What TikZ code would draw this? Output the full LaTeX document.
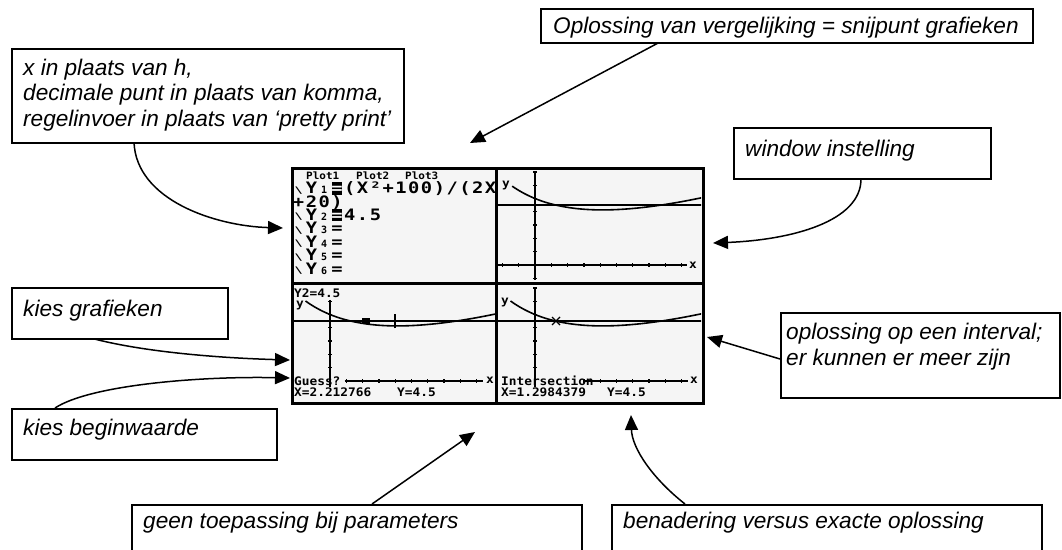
\documentclass[tikz,border=0pt]{standalone}
\usepackage{fontspec}
\usepackage{graphicx}
\setmainfont{Liberation Sans}
\newfontfamily\tifont{DejaVu Sans Mono}
\usetikzlibrary{arrows.meta}
\newcommand{\tc}[1]{\makebox[12.8pt]{\scalebox{1.25}[1.05]{#1}}}
\newcommand{\tsub}[1]{\makebox[12.8pt]{\fontsize{10}{10}\selectfont #1}}
\newcommand{\thl}{\makebox[12.8pt]{\rlap{\rule[-1pt]{10.5pt}{12.5pt}}\makebox[10.5pt]{\color{white}\scalebox{1.25}[1]{=}}}}
\newcommand{\tbs}{\makebox[12.8pt]{\raisebox{0.5pt}{\scalebox{0.9}[0.6]{\textbackslash}}}}
\newcommand{\sm}[1]{\scalebox{1}[0.92]{#1}}
\begin{document}
\begin{tikzpicture}[x=1pt,y=-1pt,
  callout/.style={draw=black, line width=1.5pt, fill=white, inner sep=0pt, anchor=north west},
  lbl/.style={anchor=base west, inner sep=0pt, font=\fontsize{22.6}{26}\selectfont\itshape},
  conn/.style={line width=1.5pt, -{Triangle[length=15pt,width=13pt]}},
  screenbox/.style={draw=black, line width=3pt, fill=black!4, inner sep=0pt, anchor=north west},
  quad/.style={inner sep=0pt, minimum width=205pt, minimum height=116pt, anchor=north west},
  gline/.style={line width=1.6pt},
  tick/.style={line width=1.3pt},
  tibig/.style={anchor=base west, inner sep=0pt, text height=10.5pt, text depth=0.5pt, font=\tifont\bfseries\fontsize{15}{15}\selectfont},
  tism/.style={anchor=base west, inner sep=0pt, text height=8pt, text depth=0.5pt, font=\tifont\bfseries\fontsize{12.8}{12.8}\selectfont},
  tiplot/.style={anchor=base west, inner sep=0pt, text height=7pt, text depth=0.5pt, font=\tifont\bfseries\fontsize{11}{11}\selectfont},
]
\useasboundingbox (0,0) rectangle (1062,549);
\fill[white] (0,0) rectangle (1062,549);

% ---------- calculator screen ----------
\node[screenbox, minimum width=411pt, minimum height=235pt] (scr) at (291,167) {};
\node[quad] (q1) at (291,167) {};
\node[quad] (q2) at (496,167) {};
\node[quad] (q3) at (291,283) {};
\node[quad] (q4) at (496,283) {};

% top-right graph
\begin{scope}
\clip (497,168) rectangle (701,282);
\begin{scope}[shift={(535,265)}]
\begin{scope}[x=16.3pt,y=13.3pt]
\draw[gline] (-2.4,0) -- (9.3,0);
\foreach \k in {-2,...,9} \draw[tick] (\k,-0.12) -- (\k,0.12);
\draw[gline] (0,7) -- (0,-1.1);
\foreach \k in {-1,...,7} \draw[tick] (-0.1,\k) -- (0.13,\k);
\draw[gline] (-2.5,4.5) -- (10.5,4.5);
\draw[gline] plot[domain=-1.4:10.4,samples=80] (\x,{(\x*\x+100)/(2*\x+20)});
\end{scope}
\end{scope}
\end{scope}

% bottom-left graph
\begin{scope}
\clip (292,284) rectangle (495,401);
\begin{scope}[shift={(330,381)}]
\begin{scope}[x=16.3pt,y=13.3pt]
\draw[gline] (0.9,0) -- (9.4,0);
\foreach \k in {1,...,9} \draw[tick] (\k,-0.12) -- (\k,0.12);
\draw[gline] (0,6.1) -- (0,-0.45);
\foreach \k in {1,...,6} \draw[tick] (-0.1,\k) -- (0.13,\k);
\draw[gline] (-2.5,4.5) -- (10.5,4.5);
\draw[gline] plot[domain=-1.5:10.4,samples=80] (\x,{(\x*\x+100)/(2*\x+20)});
\draw[gline] (4.0,3.95) -- (4.0,5.05);
\end{scope}
\end{scope}
\fill[black] (362,318) rectangle (370,324);
\end{scope}

% bottom-right graph
\begin{scope}
\clip (497,284) rectangle (701,401);
\begin{scope}[shift={(535,381)}]
\begin{scope}[x=16.3pt,y=13.3pt]
\draw[gline] (2.95,0) -- (9.4,0);
\foreach \k in {3,...,9} \draw[tick] (\k,-0.12) -- (\k,0.12);
\draw[gline] (0,7.05) -- (0,-0.45);
\foreach \k in {1,...,7} \draw[tick] (-0.1,\k) -- (0.13,\k);
\draw[gline] (-2.5,4.5) -- (10.5,4.5);
\draw[gline] plot[domain=-1.5:10.4,samples=80] (\x,{(\x*\x+100)/(2*\x+20)});
\end{scope}
\end{scope}
\draw[line width=1.2pt] (552,317) -- (560,325) (552,325) -- (560,317);
\end{scope}

\draw[line width=3pt] (496,167) -- (496,402);
\draw[line width=3pt] (291,283) -- (702,283);

% screen texts, top-left
\node[tiplot] (r0) at (306,179) {\sm{\makebox[50pt][l]{Plot1}\makebox[49pt][l]{Plot2}Plot3}};
\node[tibig] (r1) at (292,193.5) {\tbs\tc{Y}\tsub{1}\thl\tc{(}\tc{X}\tc{²}\tc{+}\tc{1}\tc{0}\tc{0}\tc{)}\tc{/}\tc{(}\tc{2}\tc{X}};
\node[tibig] (r2) at (292,207) {\tc{+}\tc{2}\tc{0}\tc{)}};
\node[tibig] (r3) at (292,220.3) {\tbs\tc{Y}\tsub{2}\thl\tc{4}\tc{.}\tc{5}};
\node[tibig] (r4) at (292,233.7) {\tbs\tc{Y}\tsub{3}\tc{=}};
\node[tibig] (r5) at (292,247) {\tbs\tc{Y}\tsub{4}\tc{=}};
\node[tibig] (r6) at (292,260.5) {\tbs\tc{Y}\tsub{5}\tc{=}};
\node[tibig] (r7) at (292,274) {\tbs\tc{Y}\tsub{6}\tc{=}};

% graph labels
\node[tism] (ytr) at (502,187) {\sm{y}};
\node[tism] (xtr) at (689,268) {\sm{x}};
\node[tism] (y2l) at (294,297) {\sm{Y2=4.5}};
\node[tism] (ybl) at (296,307) {\sm{y}};
\node[tism] (gue) at (294,385) {\sm{Guess?}};
\node[tism] (xbl) at (486,383) {\sm{x}};
\node[tism] (xvl) at (294,396) {\sm{X=2.212766}};
\node[tism] (yvl) at (397,396) {\sm{Y=4.5}};
\node[tism] (ybr) at (501,304) {\sm{y}};
\node[tism] (int) at (501,385) {\sm{Intersection}};
\node[tism] (xbr) at (690,383) {\sm{x}};
\node[tism] (xvr) at (501,396) {\sm{X=1.2984379}};
\node[tism] (yvr) at (607,396) {\sm{Y=4.5}};

% ---------- connectors ----------
\coordinate (s1) at (134,142); \coordinate (t1) at (283,228);
\coordinate (s2) at (660,42);  \coordinate (t2) at (470,143);
\coordinate (s3) at (861,178); \coordinate (t3) at (713,243);
\coordinate (s4) at (87,337);  \coordinate (t4) at (290,360);
\coordinate (s5) at (55,408);  \coordinate (t5) at (290,378);
\coordinate (s6) at (780,359); \coordinate (t6) at (707,337);
\coordinate (s7) at (372,504); \coordinate (t7) at (475,432);
\coordinate (s8) at (685,504); \coordinate (t8) at (631,415);
\draw[conn] (s1) .. controls (136,200) and (215,226) .. (t1);
\draw[conn] (s2) -- (t2);
\draw[conn] (s3) .. controls (862,222) and (790,240) .. (t3);
\draw[conn] (s4) .. controls (140,352) and (220,358) .. (t4);
\draw[conn] (s5) .. controls (90,385) and (200,376) .. (t5);
\draw[conn] (s6) -- (t6);
\draw[conn] (s7) -- (t7);
\draw[conn] (s8) .. controls (652,478) and (632,448) .. (t8);

% ---------- callout boxes ----------
\node[callout, minimum width=392pt, minimum height=94pt] (b1) at (11,48) {};
\node[lbl] (b1a) at (23,75) {x in plaats van h,};
\node[lbl] (b1b) at (23,100.5) {decimale punt in plaats van komma,};
\node[lbl] (b1c) at (23,126) {regelinvoer in plaats van ‘pretty print’};

\node[callout, minimum width=492pt, minimum height=34pt] (b2) at (540,8) {};
\node[lbl] (b2a) at (553,33) {Oplossing van vergelijking = snijpunt grafieken};

\node[callout, minimum width=257pt, minimum height=51pt] (b3) at (733,127) {};
\node[lbl] (b3a) at (745,156) {window instelling};

\node[callout, minimum width=216pt, minimum height=51pt] (b4) at (11,287) {};
\node[lbl] (b4a) at (23,316) {kies grafieken};

\node[callout, minimum width=265pt, minimum height=51pt] (b5) at (11,408) {};
\node[lbl] (b5a) at (23,435) {kies beginwaarde};

\node[callout, minimum width=279pt, minimum height=85pt] (b6) at (780,312) {};
\node[lbl] (b6a) at (786,339) {oplossing op een interval;};
\node[lbl] (b6b) at (786,365) {er kunnen er meer zijn};

\node[callout, minimum width=450pt, minimum height=60pt] (b7) at (131,504) {};
\node[lbl] (b7a) at (143,528) {geen toepassing bij parameters};

\node[callout, minimum width=430pt, minimum height=60pt] (b8) at (611,504) {};
\node[lbl] (b8a) at (623,528) {benadering versus exacte oplossing};
\end{tikzpicture}
\end{document}
